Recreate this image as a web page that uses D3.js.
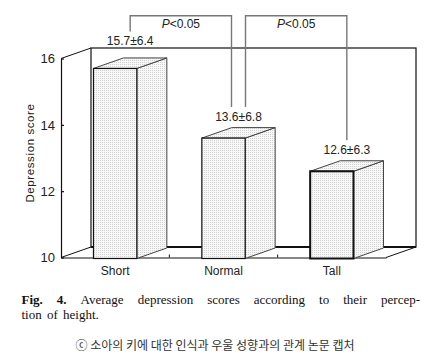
<!DOCTYPE html>
<html>
<head>
<meta charset="utf-8">
<script src="https://cdn.jsdelivr.net/npm/d3@7"></script>
<style>
    body { margin: 0; background: #fff; }
    text { font-family: "Liberation Sans", Arial, sans-serif; fill: #222; }
    .caption { font-family: "Liberation Serif", "Times New Roman", serif; font-size: 13px; fill: #111; }
    .credit { font-family: "Noto Sans CJK KR", sans-serif; font-size: 12px; fill: #333; }
</style>
</head>
<body>
<div id="container"></div>
<script>

// data
var categories = ["Short", "Normal", "Tall"];
var means = [15.7, 13.6, 12.6];
var sds = [6.4, 6.8, 6.3];
var yTicks = [10, 12, 14, 16];
var comparisons = [[0, 1], [1, 2]];
var pLabels = ["P", "P"];

// caption text
var captionLine1 = ["Fig.", "4.", "Average", "depression", "scores", "according", "to", "their", "percep-"];
var captionLine2 = "tion of height.";
var credit = "\u24d2 \uc18c\uc544\uc758 \ud0a4\uc5d0 \ub300\ud55c \uc778\uc2dd\uacfc \uc6b0\uc6b8 \uc131\ud5a5\uacfc\uc758 \uad00\uacc4 \ub17c\ubb38 \ucea1\ucc98";

// layout
var canvasX = 441;
var canvasY = 359;
var plotLeft = 61;
var plotRight = 386;
var plotTop = 58.5;
var plotBottom = 257.5;
var depthX = 30;
var depthY = -10.5;

var svg = d3.select("#container")
            .append("svg")
            .attr("width", canvasX)
            .attr("height", canvasY);

// scales
var xScale = d3.scaleBand()
               .domain(categories)
               .range([plotLeft, plotRight]);

var yScale = d3.scaleLinear()
               .domain([yTicks[0], yTicks[yTicks.length - 1]])
               .range([plotBottom, plotTop]);

// dotted fill like the printed figure
var defs = svg.append("defs");
var pattern = defs.append("pattern")
                  .attr("id", "dots")
                  .attr("width", 2)
                  .attr("height", 2)
                  .attr("patternUnits", "userSpaceOnUse");
pattern.append("rect").attr("width", 2).attr("height", 2).attr("fill", "#f7f7f7");
pattern.append("rect").attr("width", 1).attr("height", 1).attr("fill", "#d2d2d2");

drawFrame();
drawAxes();
drawBars();
drawBrackets();
drawCaption();

// back wall, side wall and floor of the 3d box
function drawFrame() {
    var g = svg.append("g").attr("fill", "none").attr("stroke", "#111");
    var wallTop = plotTop + depthY;
    var wallBottom = plotBottom + depthY;

    g.append("rect")
     .attr("x", plotLeft + depthX)
     .attr("y", wallTop)
     .attr("width", plotRight - plotLeft)
     .attr("height", wallBottom - wallTop)
     .attr("stroke-width", 1.2);

    // thicker back floor edge
    g.append("line")
     .attr("x1", plotLeft + depthX).attr("x2", plotRight + depthX)
     .attr("y1", wallBottom).attr("y2", wallBottom)
     .attr("stroke-width", 2);

    // side wall diagonals
    g.append("line")
     .attr("x1", plotLeft).attr("y1", plotTop)
     .attr("x2", plotLeft + depthX).attr("y2", wallTop);
    g.append("line")
     .attr("x1", plotLeft).attr("y1", plotBottom)
     .attr("x2", plotLeft + depthX).attr("y2", wallBottom);
    g.append("line")
     .attr("x1", plotRight).attr("y1", plotBottom)
     .attr("x2", plotRight + depthX).attr("y2", wallBottom);
}

function drawAxes() {
    // y axis with inward ticks
    var yAxis = d3.axisLeft(yScale)
                  .tickValues(yTicks)
                  .tickSizeInner(-3)
                  .tickSizeOuter(0)
                  .tickPadding(6)
                  .tickFormat(d3.format("d"));

    var gy = svg.append("g")
                .attr("transform", "translate(" + plotLeft + ",0)")
                .call(yAxis);
    gy.selectAll("text").style("font-size", "13px").attr("fill", "#222");
    gy.selectAll("path, line").attr("stroke", "#111").attr("stroke-width", 1.2);

    // x axis (front floor edge)
    var xAxis = d3.axisBottom(xScale)
                  .tickSize(0)
                  .tickPadding(9);

    var gx = svg.append("g")
                .attr("transform", "translate(0," + plotBottom + ")")
                .call(xAxis);
    gx.selectAll("text").style("font-size", "12px").attr("fill", "#222");
    gx.select(".domain").attr("stroke", "#111").attr("stroke-width", 1.2);

    // small ticks between categories
    svg.append("g")
       .selectAll("line")
       .data(categories.slice(1))
       .enter()
       .append("line")
       .attr("x1", function(d) { return xScale(d); })
       .attr("x2", function(d) { return xScale(d); })
       .attr("y1", plotBottom)
       .attr("y2", plotBottom - 3)
       .attr("stroke", "#111");

    // y label
    svg.append("text")
       .attr("transform", "translate(34," + (yScale(13) - 5) + ") rotate(-90)")
       .attr("text-anchor", "middle")
       .style("font-size", "11.5px")
       .style("letter-spacing", "0.6px")
       .attr("fill", "#333")
       .text("Depression score");
}

function drawBars() {
    var barW = xScale.bandwidth() * 0.4;
    var base = yScale(yTicks[0]) + 1;

    var bars = svg.append("g")
                  .selectAll("g")
                  .data(means)
                  .enter()
                  .append("g");

    bars.each(function(d, i) {
        var x0 = xScale(categories[i]) + (xScale.bandwidth() - barW) / 2;
        var x1 = x0 + barW;
        var yt = yScale(d);
        var g = d3.select(this);
        var w = i === 2 ? 2 : 1.2;

        // side face
        g.append("polygon")
         .attr("points", [[x1, base], [x1 + depthX, base + depthY], [x1 + depthX, yt + depthY], [x1, yt]].join(" "))
         .attr("fill", "url(#dots)")
         .attr("stroke", "#444")
         .attr("stroke-width", 1);

        // top face
        g.append("polygon")
         .attr("points", [[x0, yt], [x0 + depthX, yt + depthY], [x1 + depthX, yt + depthY], [x1, yt]].join(" "))
         .attr("fill", "url(#dots)")
         .attr("stroke", "#444")
         .attr("stroke-width", 1);

        // front face
        g.append("rect")
         .attr("x", x0)
         .attr("y", yt)
         .attr("width", barW)
         .attr("height", base - yt)
         .attr("fill", "url(#dots)")
         .attr("stroke", "#111")
         .attr("stroke-width", w);
    });

    // mean +- sd labels
    svg.append("g")
       .selectAll("text")
       .data(means)
       .enter()
       .append("text")
       .attr("x", function(d, i) { return labelX(i); })
       .attr("y", function(d, i) { return labelY(i); })
       .attr("text-anchor", "middle")
       .style("font-size", "12px")
       .text(function(d, i) { return d.toFixed(1) + "\u00b1" + sds[i].toFixed(1); });
}

function labelX(i) {
    return xScale(categories[i]) + xScale.bandwidth() / 2 + depthX / 2;
}

// label sits above the bar, or above the wall when the bar reaches it
function labelY(i) {
    var wallTop = plotTop + depthY;
    var y = yScale(means[i]) + depthY - 7;
    if (y - 10 < wallTop) { y = wallTop - 3; }
    return y;
}

// significance brackets
function drawBrackets() {
    var bracketTop = 15.7;

    comparisons.forEach(function(pair, k) {
        var a = labelX(pair[0]);
        var b = labelX(pair[1]);
        // shared middle bar gets two legs side by side
        if (k === 0) { b -= 7; } else { a += 7; }
        var ya = labelY(pair[0]) - 13.5;
        var yb = labelY(pair[1]) - 13.5;

        svg.append("path")
           .attr("d", "M" + a + "," + ya + "V" + bracketTop + "H" + b + "V" + yb)
           .attr("fill", "none")
           .attr("stroke", "#777")
           .attr("stroke-width", 1.4);

        var t = svg.append("text")
                   .attr("x", (a + b) / 2)
                   .attr("y", bracketTop + 12.3)
                   .attr("text-anchor", "middle")
                   .style("font-size", "12px");
        t.append("tspan").style("font-style", "italic").text(pLabels[k]);
        t.append("tspan").text("<0.05");
    });
}

function drawCaption() {
    // justified first line, words spread between the margins
    var x0 = 21.5;
    var x1 = 420;
    var texts = captionLine1.map(function(w, i) {
        return svg.append("text")
                  .attr("class", "caption")
                  .attr("y", 304)
                  .style("font-weight", i < 2 ? "bold" : "normal")
                  .text(w);
    });
    var widths = texts.map(function(t) { return t.node().getComputedTextLength(); });
    var gap = (x1 - x0 - d3.sum(widths)) / (texts.length - 1);
    var x = x0;
    texts.forEach(function(t, i) {
        t.attr("x", x);
        x += widths[i] + gap;
    });

    svg.append("text")
       .attr("class", "caption")
       .attr("x", x0)
       .attr("y", 318.5)
       .style("word-spacing", "2px")
       .text(captionLine2);

    svg.append("text")
       .attr("class", "credit")
       .attr("x", 215)
       .attr("y", 350)
       .attr("text-anchor", "middle")
       .text(credit);
}

</script>
</body>
</html>
